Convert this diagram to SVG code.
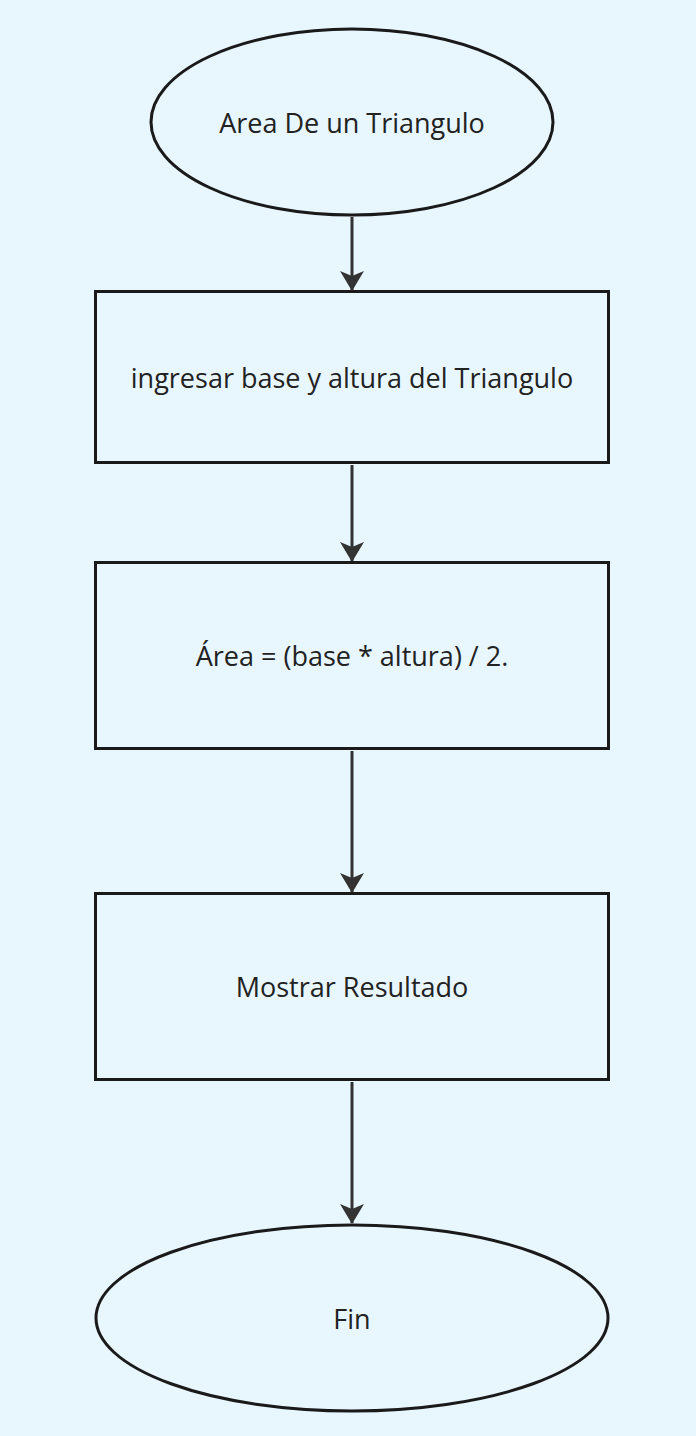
<svg xmlns="http://www.w3.org/2000/svg" width="696" height="1436" viewBox="0 0 696 1436">
<style>
.shape{fill:#e8f6fe;stroke:#1a1a1a;stroke-width:3}
.lbl{font-family:"Open Sans",sans-serif;font-size:27px;fill:#222;text-anchor:middle;dominant-baseline:central}
.edge{stroke:#333;stroke-width:3;fill:none}
</style>
<defs>
<marker id="arr" viewBox="0 0 20 24" refX="19" refY="12" markerWidth="20" markerHeight="24" markerUnits="userSpaceOnUse" orient="auto">
<path d="M0,0 L20,12 L0,24 L5,12 z" fill="#333"/>
</marker>
</defs>
<rect width="696" height="1436" fill="#e8f6fe"/>
<g id="connectors">
<path class="edge" d="M352,217 V290" marker-end="url(#arr)"/>
<path class="edge" d="M352,465 V561" marker-end="url(#arr)"/>
<path class="edge" d="M352,751 V892" marker-end="url(#arr)"/>
<path class="edge" d="M352,1082 V1223" marker-end="url(#arr)"/>
</g>
<g id="start">
<ellipse class="shape" cx="352" cy="122" rx="201" ry="93"/>
<text class="lbl" x="352" y="122">Area De un Triangulo</text>
</g>
<g id="input">
<rect class="shape" x="95.5" y="291.5" width="513" height="171"/>
<text class="lbl" x="352" y="377">ingresar base y altura del Triangulo</text>
</g>
<g id="process">
<rect class="shape" x="95.5" y="562.5" width="513" height="186"/>
<text class="lbl" x="352" y="655">Área = (base * altura) / 2.</text>
</g>
<g id="output">
<rect class="shape" x="95.5" y="893.5" width="513" height="186"/>
<text class="lbl" x="352" y="986">Mostrar Resultado</text>
</g>
<g id="end">
<ellipse class="shape" cx="352" cy="1318" rx="256" ry="93"/>
<text class="lbl" x="352" y="1318">Fin</text>
</g>
</svg>
